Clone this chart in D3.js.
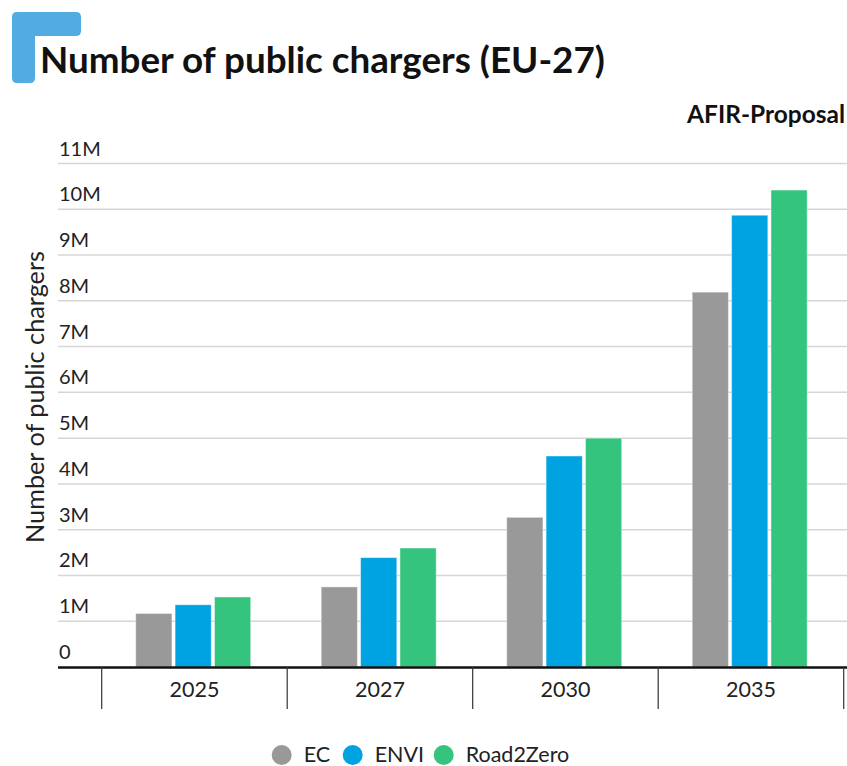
<!DOCTYPE html>
<html>
<head>
<meta charset="utf-8">
<script src="https://cdn.jsdelivr.net/npm/d3@7"></script>
<style>
  html, body { margin: 0; padding: 0; background: #fff; }
  svg { display: block; font-family: Lato, "Noto Sans", sans-serif; }
</style>
</head>
<body>
<svg id="chart" width="847" height="766"></svg>
<script>
// ---- data ----
const years = ["2025", "2027", "2030", "2035"];
const seriesNames = ["EC", "ENVI", "Road2Zero"];
const ecValues = [1.17e6, 1.75e6, 3.27e6, 8.19e6];
const enviValues = [1.36e6, 2.39e6, 4.61e6, 9.87e6];
const road2ZeroValues = [1.53e6, 2.60e6, 5.00e6, 10.42e6];
const yTicks = [0, 1e6, 2e6, 3e6, 4e6, 5e6, 6e6, 7e6, 8e6, 9e6, 10e6, 11e6];
const yTickLabels = ["0", "1M", "2M", "3M", "4M", "5M", "6M", "7M", "8M", "9M", "10M", "11M"];
const colors = ["#999999", "#00a3e2", "#35c47d"];

const seriesValues = [ecValues, enviValues, road2ZeroValues];
const table = years.map((y, i) => ({
  year: y,
  values: seriesNames.map((s, j) => ({ series: s, value: seriesValues[j][i] }))
}));

const svg = d3.select("#chart");

function fitText(sel, width) {
  const node = sel.node();
  let fs = parseFloat(sel.attr("font-size"));
  const w = node.getComputedTextLength();
  if (w > 0) sel.attr("font-size", (fs * width / w).toFixed(2));
}

// ---- logo ----
svg.append("path")
  .attr("d", "M17,12 H76 Q81,12 81,17 V31 Q81,36 76,36 H35 V78 Q35,83 30,83 H17 Q12,83 12,78 V17 Q12,12 17,12 Z")
  .attr("fill", "#52ace2");

// ---- title ----
const title = svg.append("text")
  .attr("x", 40).attr("y", 73)
  .attr("font-size", 34).attr("font-weight", 700).attr("fill", "#111")
  .text("Number of public chargers (EU-27)");
fitText(title, 565);

const sub = svg.append("text")
  .attr("x", 845).attr("y", 123).attr("text-anchor", "end")
  .attr("font-size", 19).attr("font-weight", 700).attr("fill", "#111")
  .text("AFIR-Proposal");
fitText(sub, 158);

// ---- scales ----
const y = d3.scaleLinear().domain([0, 11e6]).range([667, 163.5]);
const x0 = d3.scaleBand().domain(years).range([101.7, 843.7]).padding(0);
const x1 = d3.scaleBand().domain(seriesNames).range([34, 149]).paddingInner(0.08).paddingOuter(0);
const color = d3.scaleOrdinal().domain(seriesNames).range(colors);

// ---- gridlines & y labels ----
const grid = svg.append("g");
grid.selectAll("line").data(yTicks.slice(1)).join("line")
  .attr("x1", 58).attr("x2", 847)
  .attr("y1", d => y(d)).attr("y2", d => y(d))
  .attr("stroke", "#d6d6d6").attr("stroke-width", 1.5);
grid.selectAll("text").data(yTicks).join("text")
  .attr("x", 59).attr("y", d => y(d) - 8)
  .attr("font-size", 20).attr("fill", "#222")
  .text((d, i) => yTickLabels[i]);

// ---- y axis title ----
const yTitle = svg.append("text")
  .attr("transform", "translate(44,397) rotate(-90)")
  .attr("text-anchor", "middle")
  .attr("font-size", 22).attr("fill", "#222")
  .text("Number of public chargers");
fitText(yTitle, 292);

// ---- bars ----
const groups = svg.append("g").selectAll("g").data(table).join("g")
  .attr("transform", d => `translate(${x0(d.year)},0)`);
groups.selectAll("rect").data(d => d.values).join("rect")
  .attr("x", d => x1(d.series))
  .attr("width", x1.bandwidth())
  .attr("y", d => y(d.value))
  .attr("height", d => y(0) - y(d.value))
  .attr("fill", d => color(d.series))
  .attr("stroke", "rgba(255,255,255,0.45)")
  .attr("stroke-width", 1);

// ---- x axis ----
svg.append("line")
  .attr("x1", 58).attr("x2", 847).attr("y1", y(0) + 0.5).attr("y2", y(0) + 0.5)
  .attr("stroke", "#111").attr("stroke-width", 2.5);
const bounds = years.map(d => x0(d)).concat([x0(years[years.length - 1]) + x0.bandwidth()]);
svg.append("g").selectAll("line").data(bounds).join("line")
  .attr("x1", d => d).attr("x2", d => d)
  .attr("y1", y(0)).attr("y2", 709)
  .attr("stroke", "#333").attr("stroke-width", 1.2);
svg.append("g").selectAll("text").data(years).join("text")
  .attr("x", d => x0(d) + x0.bandwidth() / 2)
  .attr("y", 697)
  .attr("text-anchor", "middle")
  .attr("font-size", 21.5).attr("fill", "#222")
  .text(d => d);

// ---- legend ----
const legendX = [281.7, 352.7, 443.7];
const legend = svg.append("g").selectAll("g").data(seriesNames).join("g")
  .attr("transform", (d, i) => `translate(${legendX[i]},755)`);
legend.append("circle").attr("r", 10).attr("fill", d => color(d));
legend.append("text")
  .attr("x", 22).attr("y", 7)
  .attr("font-size", 21.5).attr("fill", "#222")
  .text(d => d);
</script>
</body>
</html>
